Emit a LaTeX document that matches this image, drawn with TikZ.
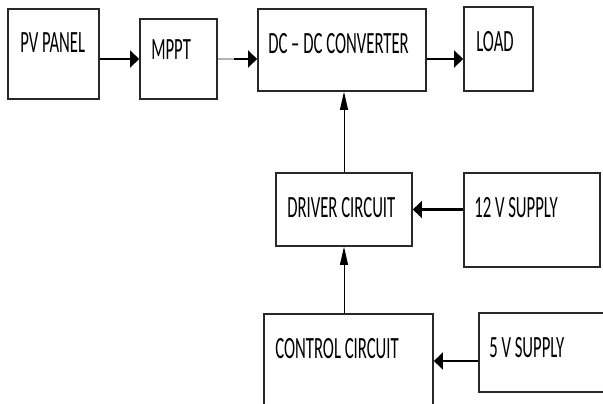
\documentclass[tikz,border=0pt]{standalone}
\usepackage{graphicx}
\usepackage{fontspec}
\setmainfont{Carlito}
\usetikzlibrary{positioning, arrows.meta, calc}
\definecolor{boxline}{RGB}{40, 40, 40}
\newcommand{\sqz}[1]{\scalebox{0.54}[1]{#1}}

\begin{document}
\begin{tikzpicture}[x=0.025cm, y=-0.025cm,
  blk/.style={draw=boxline, line width=1.2pt, inner sep=0pt},
  lbl/.style={anchor=west, inner sep=0pt, text depth=0pt,
    font=\fontsize{22}{26}\selectfont},
  harrow/.style={-{Triangle[length=6.4pt, width=12pt]}, line width=1.5pt},
  varrow/.style={-{Triangle[length=12.8pt, width=5.7pt]}, line width=0.7pt}]
\clip (0,0) rectangle (603,403);
\node[blk, minimum width=2.275cm, minimum height=2.25cm] (pv) at (53.5,54) {};
\node[blk, minimum width=1.925cm, minimum height=2cm] (mppt) at (178.5,59) {};
\node[blk, minimum width=4.2cm, minimum height=2.05cm] (dc) at (342,50) {};
\node[blk, minimum width=1.725cm, minimum height=2.1cm] (load) at (498.5,49) {};
\node[blk, minimum width=3.4cm, minimum height=1.825cm] (driver) at (344,209.5) {};
\node[blk, minimum width=3.4cm, minimum height=2.35cm] (v12) at (532,220) {};
\node[blk, minimum width=4.225cm, minimum height=2.35cm] (control) at (348.5,361) {};
\node[blk, minimum width=3.525cm, minimum height=1.975cm] (v5) at (549.5,352.5) {};
\node[lbl] (pvtext) at (20,42.5) {\sqz{PV PANEL}};
\node[lbl] (mppttext) at (151,49.5) {\sqz{MPPT}};
\node[lbl] (dctext) at (268,43) {\sqz{DC -- DC CONVERTER}};
\node[lbl] (loadtext) at (476,41.5) {\sqz{LOAD}};
\node[lbl] (drivertext) at (287,207) {\sqz{DRIVER CIRCUIT}};
\node[lbl] (v12text) at (474,207) {\sqz{12 V SUPPLY}};
\node[lbl] (controltext) at (275,348) {\sqz{CONTROL CIRCUIT}};
\node[lbl] (v5text) at (489,347) {\sqz{5 V SUPPLY}};
\draw[harrow] (pv.east |- mppt.east) -- (mppt.west |- mppt.east);
\draw[harrow] (mppt.east) -- (dc.west |- mppt.east);
\draw[gray!60, line width=1.5pt] (mppt.east) -- ++(16,0);
\draw[harrow] (dc.east |- mppt.east) -- (load.west |- mppt.east);
\draw[varrow] (driver.north) -- (driver.north |- dc.south);
\draw[harrow] (v12.west |- driver.east) -- (driver.east);
\draw[varrow] (driver.south |- control.north) -- (driver.south);
\draw[harrow] (v5.west |- control.east) -- (control.east);
\end{tikzpicture}
\end{document}
